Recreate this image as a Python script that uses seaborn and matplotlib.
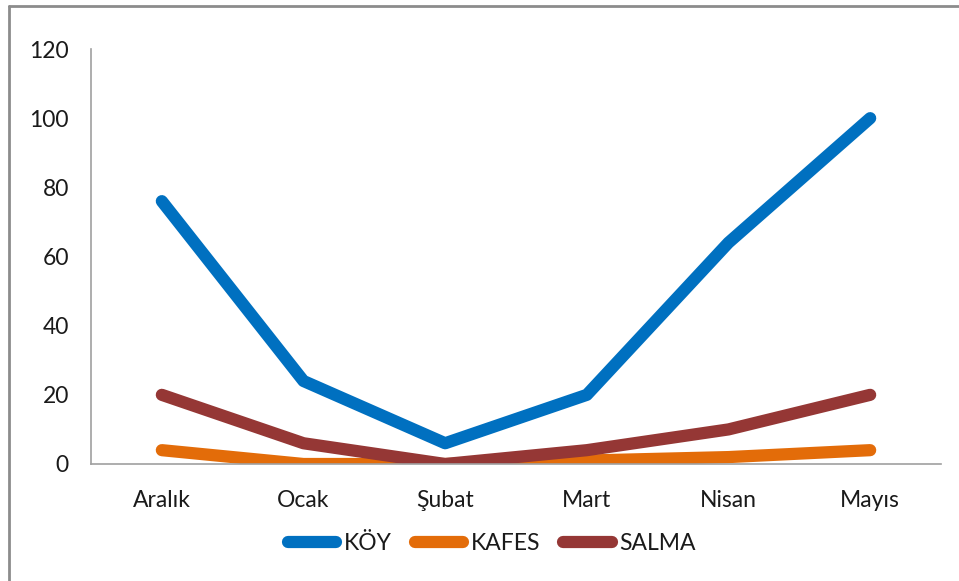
import matplotlib
matplotlib.use("Agg")
import matplotlib.pyplot as plt
import seaborn as sns
import pandas as pd
from matplotlib.lines import Line2D

months = ["Aralık", "Ocak", "Şubat", "Mart", "Nisan", "Mayıs"]
koy = [76, 24, 6, 20, 64, 100]
kafes = [4, 0, 0, 1, 2, 4]
salma = [20, 6, 0, 4, 10, 20]
series_names = ["KÖY", "KAFES", "SALMA"]
colors = ["#0070C0", "#E36C09", "#953735"]

rows = []
for name, vals in zip(series_names, [koy, kafes, salma]):
    for i, (m, v) in enumerate(zip(months, vals)):
        rows.append({"Ay": i, "Değer": v, "Seri": name})
df = pd.DataFrame(rows)

sns.set_theme(style="white")
plt.rcParams['font.family'] = ['Lato', 'DejaVu Sans']

W, H = 959, 581
fig = plt.figure(figsize=(W / 100, H / 100), dpi=100)
ax = fig.add_axes([91 / W, 1 - 464 / H, (941 - 91) / W, (464 - 49) / H])

sns.lineplot(data=df, x="Ay", y="Değer", hue="Seri", hue_order=series_names,
             palette=colors, linewidth=8.8, ax=ax, legend=False,
             solid_capstyle="round", solid_joinstyle="round")

ax.set_xlim(-0.5, len(months) - 0.5)
ax.set_ylim(0, 120)
ax.set_yticks(range(0, 121, 20))
ax.set_xticks(range(len(months)))
ax.set_xticklabels(months)
ax.set_xlabel("")
ax.set_ylabel("")
ax.tick_params(axis="both", length=0, labelsize=16.5, colors="#1a1a1a")
ax.tick_params(axis="y", pad=16)
ax.tick_params(axis="x", pad=19)
for s in ["top", "right"]:
    ax.spines[s].set_visible(False)
for s in ["left", "bottom"]:
    ax.spines[s].set_color("#a0a0a0")
    ax.spines[s].set_linewidth(1.2)

handles = [Line2D([0], [0], color=c, linewidth=8.8, solid_capstyle="round") for c in colors]
leg = fig.legend(handles, series_names, loc="center", bbox_to_anchor=(492 / W, 1 - 544 / H),
                 ncol=3, frameon=False, fontsize=16.5, handlelength=2.1, handletextpad=0.35,
                 columnspacing=1.0)
for t in leg.get_texts():
    t.set_color("#1a1a1a")

# chart border (top and left visible)
fig.add_artist(Line2D([9 / W, 9 / W], [0, 1 - 6 / H], transform=fig.transFigure,
                      color="#8c8c8c", linewidth=2))
fig.add_artist(Line2D([9 / W, 1], [1 - 6 / H, 1 - 6 / H], transform=fig.transFigure,
                      color="#8c8c8c", linewidth=2))

fig.savefig("out.png", dpi=100)
